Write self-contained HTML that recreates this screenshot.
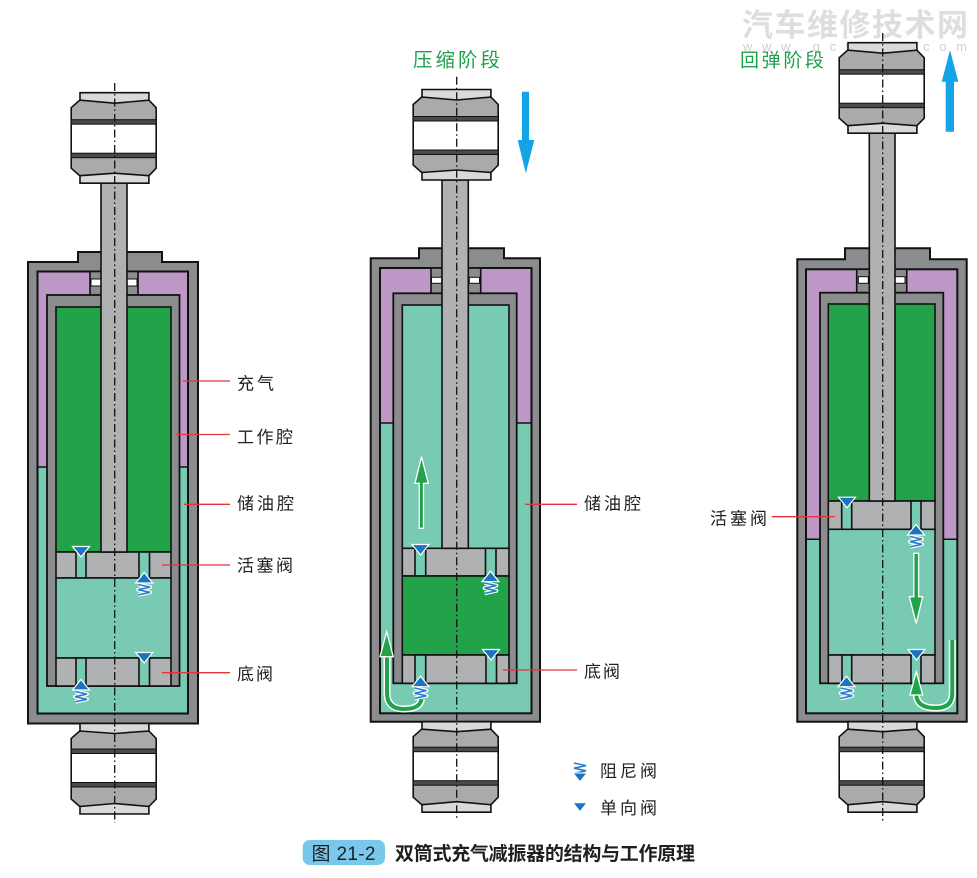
<!DOCTYPE html>
<html><head><meta charset="utf-8"><style>
html,body{margin:0;padding:0;background:#fff;}
svg{display:block;}
text{font-family:"Liberation Sans","Noto Sans CJK SC",sans-serif;}
</style></head><body>
<svg width="977" height="878" viewBox="0 0 977 878" xmlns="http://www.w3.org/2000/svg">
<defs>
<g id="eye">
 <polygon points="-35,7.5 34.2,7.5 41.5,15 41.5,75.5 34.2,83 -35,83 -43.5,75.5 -43.5,15" fill="#a9aaac"/>
 <rect x="-43.5" y="31.5" width="85" height="29" fill="#fff"/>
 <polygon points="-35,7.5 34.2,7.5 41.5,15 41.5,75.5 34.2,83 -35,83 -43.5,75.5 -43.5,15" fill="none" stroke="#111" stroke-width="1.6"/>
 <rect x="-43.5" y="27" width="85" height="4.5" fill="#4a4a4a" stroke="#111" stroke-width="1"/>
 <rect x="-43.5" y="60.5" width="85" height="4.5" fill="#4a4a4a" stroke="#111" stroke-width="1"/>
 <polygon points="-34.7,0 34.2,0 34.2,7.5 0,10.5 -34.7,7.5" fill="#d9d9da" stroke="#111" stroke-width="1.6"/>
 <polygon points="-34.7,83 0,80.5 34.2,83 34.2,90.5 -34.7,90.5" fill="#d9d9da" stroke="#111" stroke-width="1.6"/>
</g>
<g id="spring">
 <polyline points="-6,1 6,3.6 -6,6.2 6,8.8 -6,11.4" fill="none" stroke="#fff" stroke-width="3.8" stroke-linejoin="round"/>
 <polyline points="-6,1 6,3.6 -6,6.2 6,8.8 -6,11.4" fill="none" stroke="#2a7fcc" stroke-width="1.6"/>
</g>
<polygon id="tdown" points="-8.5,0 8.5,0 0,10.5" fill="#1b74c2" stroke="#fff" stroke-width="1.2"/>
<polygon id="tup" points="-8.5,10.5 8.5,10.5 0,0" fill="#1b74c2" stroke="#fff" stroke-width="1.2"/>
</defs>

<!-- watermark -->
<text x="742" y="36" font-size="31" font-weight="bold" fill="#dedede" textLength="226" lengthAdjust="spacing">汽车维修技术网</text>
<text x="743" y="51" font-size="13" fill="#d0d0d0" textLength="224" lengthAdjust="spacing">www.qcwxjs.com</text>

<!-- titles -->
<text x="413" y="66.5" font-size="19.5" fill="#1fa04b" textLength="87" lengthAdjust="spacing">压缩阶段</text>
<text x="740" y="66.5" font-size="19" fill="#1fa04b" textLength="84" lengthAdjust="spacing">回弹阶段</text>

<!-- ================= LEFT ================= -->
<g stroke-linejoin="miter">
<path d="M28,262 H78 V252 H162 V262 H198 V723.5 H28 Z" fill="#8b8c8e" stroke="#111" stroke-width="2"/>
<rect x="37.5" y="271.5" width="150.5" height="195.5" fill="#bd98c6"/>
<rect x="37.5" y="467" width="150.5" height="246.5" fill="#78cbb2"/>
<line x1="37.5" y1="467" x2="188" y2="467" stroke="#111" stroke-width="1.5"/>
<rect x="37.5" y="271.5" width="150.5" height="442" fill="none" stroke="#111" stroke-width="2"/>
<rect x="90" y="271.5" width="48" height="24" fill="#8b8c8e" stroke="#111" stroke-width="1.6"/>
<rect x="91" y="279" width="10" height="7" fill="#fff" stroke="#111" stroke-width="1"/>
<rect x="127" y="279" width="10" height="7" fill="#fff" stroke="#111" stroke-width="1"/>
<rect x="47" y="295" width="132.5" height="391" fill="#8b8c8e" stroke="#111" stroke-width="1.8"/>
<rect x="56" y="307" width="115" height="245" fill="#22a34a" stroke="#111" stroke-width="1.6"/>
<rect x="56" y="552" width="115" height="26" fill="#b0b1b3" stroke="#111" stroke-width="1.6"/>
<rect x="76" y="552" width="10" height="26" fill="#78cbb2" stroke="#111" stroke-width="1.6"/>
<rect x="139" y="552" width="10.5" height="26" fill="#78cbb2" stroke="#111" stroke-width="1.6"/>
<rect x="56" y="578" width="115" height="80" fill="#78cbb2" stroke="#111" stroke-width="1.6"/>
<rect x="56" y="658" width="115" height="28" fill="#b0b1b3" stroke="#111" stroke-width="1.6"/>
<rect x="76" y="658" width="10" height="28" fill="#78cbb2" stroke="#111" stroke-width="1.6"/>
<rect x="139" y="658" width="10.5" height="28" fill="#78cbb2" stroke="#111" stroke-width="1.6"/>
<rect x="101" y="183" width="26" height="369" fill="#b0b1b3" stroke="#111" stroke-width="1.6"/>
<use href="#tdown" x="81" y="546.5"/>
<use href="#tup" x="144.2" y="572.5"/><use href="#spring" x="144.2" y="583.5"/>
<use href="#tdown" x="144.2" y="652.5"/>
<use href="#tup" x="81" y="679.5"/><use href="#spring" x="81" y="690.5"/>
<use href="#eye" transform="translate(114.7,92.7)"/>
<use href="#eye" transform="translate(114.7,814) scale(1,-1)"/>
<line x1="114.7" y1="83" x2="114.7" y2="823" stroke="#111" stroke-width="1.3" stroke-dasharray="8 3 1.5 3"/>
</g>

<!-- left labels -->
<g stroke="#e3343b" stroke-width="1.3">
<line x1="183" y1="381" x2="230" y2="381"/>
<line x1="176" y1="434.5" x2="230" y2="434.5"/>
<line x1="184" y1="504.3" x2="230" y2="504.3"/>
<line x1="162" y1="565" x2="230" y2="565"/>
<line x1="162" y1="672.7" x2="230" y2="672.7"/>
</g>
<g font-size="17" fill="#231f20">
<text x="237" y="389.5" textLength="37" lengthAdjust="spacing">充气</text>
<text x="237" y="443" textLength="56" lengthAdjust="spacing">工作腔</text>
<text x="237" y="509.5" textLength="57" lengthAdjust="spacing">储油腔</text>
<text x="237" y="571.5" textLength="56" lengthAdjust="spacing">活塞阀</text>
<text x="237" y="680" textLength="36" lengthAdjust="spacing">底阀</text>
</g>

<!-- ================= MIDDLE ================= -->
<g>
<path d="M370.7,258.3 H419 V248.3 H504 V258.3 H540 V721.7 H370.7 Z" fill="#8b8c8e" stroke="#111" stroke-width="2"/>
<rect x="380" y="268" width="151.5" height="155" fill="#bd98c6"/>
<rect x="380" y="423" width="151.5" height="290.3" fill="#78cbb2"/>
<line x1="380" y1="423" x2="531.5" y2="423" stroke="#111" stroke-width="1.5"/>
<rect x="380" y="268" width="151.5" height="445.3" fill="none" stroke="#111" stroke-width="2"/>
<rect x="431" y="268" width="49.7" height="25.3" fill="#8b8c8e" stroke="#111" stroke-width="1.6"/>
<rect x="431.5" y="277.3" width="10.2" height="6" fill="#fff" stroke="#111" stroke-width="1"/>
<rect x="469.3" y="277.3" width="10.2" height="6" fill="#fff" stroke="#111" stroke-width="1"/>
<rect x="393.3" y="293.3" width="123.4" height="390" fill="#8b8c8e" stroke="#111" stroke-width="1.8"/>
<rect x="402.3" y="305" width="106.7" height="243.3" fill="#78cbb2" stroke="#111" stroke-width="1.6"/>
<rect x="402.3" y="548.3" width="106.7" height="27.7" fill="#b0b1b3" stroke="#111" stroke-width="1.6"/>
<rect x="415" y="548.3" width="10.7" height="27.7" fill="#78cbb2" stroke="#111" stroke-width="1.6"/>
<rect x="485.5" y="548.3" width="10.5" height="27.7" fill="#78cbb2" stroke="#111" stroke-width="1.6"/>
<rect x="402.3" y="576" width="106.7" height="79" fill="#22a34a" stroke="#111" stroke-width="1.6"/>
<rect x="402.3" y="655" width="106.7" height="28.3" fill="#b0b1b3" stroke="#111" stroke-width="1.6"/>
<rect x="415" y="655" width="10.7" height="28.3" fill="#78cbb2" stroke="#111" stroke-width="1.6"/>
<rect x="486" y="655" width="10.5" height="28.3" fill="#78cbb2" stroke="#111" stroke-width="1.6"/>
<rect x="442" y="180" width="26.3" height="368.3" fill="#b0b1b3" stroke="#111" stroke-width="1.6"/>
<use href="#tdown" x="420.5" y="544.5"/>
<use href="#tup" x="490.5" y="571.2"/><use href="#spring" x="490.5" y="582"/>
<use href="#tdown" x="491" y="649.5"/>
<use href="#tup" x="420.5" y="676.2"/><use href="#spring" x="420.5" y="687"/>
<!-- green arrows -->
<polygon points="419.3,528.3 419.3,483.3 415,483.3 421.5,456.7 428.3,483.3 423.5,483.3 423.5,528.3" fill="#22a34a" stroke="#fff" stroke-width="1.3"/>
<path d="M421.5,699 Q420,709 404,709 Q387,709 387,693 L387,655" fill="none" stroke="#fff" stroke-width="7"/>
<path d="M421.5,699 Q420,709 404,709 Q387,709 387,693 L387,655" fill="none" stroke="#22a34a" stroke-width="4"/>
<polygon points="380,656.7 393.3,656.7 386.7,631.7" fill="#22a34a" stroke="#fff" stroke-width="1.3"/>
<use href="#eye" transform="translate(456.7,89.5)"/>
<use href="#eye" transform="translate(456.7,812.2) scale(1,-1)"/>
<line x1="456.7" y1="76.7" x2="456.7" y2="820" stroke="#111" stroke-width="1.3" stroke-dasharray="8 3 1.5 3"/>
<polygon points="522,91.7 529,91.7 529,140 534.3,140 525.8,173.3 517.7,140 522,140" fill="#14a4e5"/>
</g>
<g stroke="#e3343b" stroke-width="1.3">
<line x1="525" y1="504.3" x2="577" y2="504.3"/>
<line x1="503" y1="670" x2="577" y2="670"/>
</g>
<g font-size="17" fill="#231f20">
<text x="584" y="509.5" textLength="57" lengthAdjust="spacing">储油腔</text>
<text x="584" y="677.5" textLength="36" lengthAdjust="spacing">底阀</text>
</g>

<!-- ================= RIGHT ================= -->
<g>
<path d="M797.3,259.3 H845 V248.3 H930 V259.3 H966.7 V721.7 H797.3 Z" fill="#8b8c8e" stroke="#111" stroke-width="2"/>
<rect x="806" y="269.3" width="151.3" height="270" fill="#bd98c6"/>
<rect x="806" y="539.3" width="151.3" height="174" fill="#78cbb2"/>
<line x1="806" y1="539.3" x2="957.3" y2="539.3" stroke="#111" stroke-width="1.5"/>
<rect x="806" y="269.3" width="151.3" height="444" fill="none" stroke="#111" stroke-width="2"/>
<rect x="856.7" y="269.3" width="50" height="23.4" fill="#8b8c8e" stroke="#111" stroke-width="1.6"/>
<rect x="858.3" y="276.7" width="10" height="6.6" fill="#fff" stroke="#111" stroke-width="1"/>
<rect x="895" y="276.7" width="10" height="6.6" fill="#fff" stroke="#111" stroke-width="1"/>
<rect x="820" y="292.7" width="123.3" height="390.6" fill="#8b8c8e" stroke="#111" stroke-width="1.8"/>
<rect x="828.3" y="304" width="106.7" height="197" fill="#22a34a" stroke="#111" stroke-width="1.6"/>
<rect x="828.3" y="501" width="106.7" height="28.3" fill="#b0b1b3" stroke="#111" stroke-width="1.6"/>
<rect x="841.7" y="501" width="10" height="28.3" fill="#78cbb2" stroke="#111" stroke-width="1.6"/>
<rect x="911" y="501" width="10" height="28.3" fill="#78cbb2" stroke="#111" stroke-width="1.6"/>
<rect x="828.3" y="529.3" width="106.7" height="125.7" fill="#78cbb2" stroke="#111" stroke-width="1.6"/>
<rect x="828.3" y="655" width="106.7" height="28.3" fill="#b0b1b3" stroke="#111" stroke-width="1.6"/>
<rect x="842" y="655" width="9.7" height="28.3" fill="#78cbb2" stroke="#111" stroke-width="1.6"/>
<rect x="911" y="655" width="10" height="28.3" fill="#78cbb2" stroke="#111" stroke-width="1.6"/>
<rect x="869.3" y="133.2" width="25.7" height="367.8" fill="#b0b1b3" stroke="#111" stroke-width="1.6"/>
<use href="#tdown" x="847" y="497.2"/>
<use href="#tup" x="916" y="524.5"/><use href="#spring" x="916" y="535.5"/>
<use href="#tdown" x="916.5" y="649.5"/>
<use href="#tup" x="846.5" y="676.2"/><use href="#spring" x="846.5" y="687"/>
<!-- green arrows -->
<polygon points="913.8,553.3 918.6,553.3 918.6,596.7 922.7,596.7 916.2,623.3 909.3,596.7 913.8,596.7" fill="#22a34a" stroke="#fff" stroke-width="1.3"/>
<path d="M952.3,640 L952.3,693 Q952.3,708 936,708 Q916.3,708 916.3,694" fill="none" stroke="#fff" stroke-width="7"/>
<path d="M952.3,640 L952.3,693 Q952.3,708 936,708 Q916.3,708 916.3,694" fill="none" stroke="#22a34a" stroke-width="4"/>
<polygon points="910,695 922.7,695 916.3,671.7" fill="#22a34a" stroke="#fff" stroke-width="1.3"/>
<use href="#eye" transform="translate(882.7,42.7)"/>
<use href="#eye" transform="translate(882.7,812.2) scale(1,-1)"/>
<line x1="882.7" y1="33" x2="882.7" y2="822" stroke="#111" stroke-width="1.3" stroke-dasharray="8 3 1.5 3"/>
<polygon points="945.7,131.7 954,131.7 954,81.7 958.3,81.7 950,50 941.7,81.7 945.7,81.7" fill="#14a4e5"/>
</g>
<line x1="771.7" y1="516.7" x2="835" y2="516.7" stroke="#e3343b" stroke-width="1.3"/>
<text x="710" y="524.5" font-size="17" fill="#231f20" textLength="57" lengthAdjust="spacing">活塞阀</text>

<!-- legend -->
<use href="#spring" x="580" y="762"/>
<polygon points="573,773 587,773 580,781.7" fill="#1b74c2" stroke="#fff" stroke-width="1"/>
<polygon points="574,803.3 586,803.3 580,810.7" fill="#1b74c2"/>
<g font-size="17" fill="#231f20">
<text x="600" y="777" textLength="57" lengthAdjust="spacing">阻尼阀</text>
<text x="600" y="814" textLength="57" lengthAdjust="spacing">单向阀</text>
</g>

<!-- caption -->
<rect x="302.7" y="840" width="82.3" height="25" rx="7" fill="#79c7ea"/>
<text x="311.5" y="860" font-size="19" fill="#1f1f1f" textLength="64" lengthAdjust="spacing">图 21-2</text>
<text x="395" y="860" font-size="19" font-weight="bold" fill="#1f1f1f" textLength="300" lengthAdjust="spacing">双筒式充气减振器的结构与工作原理</text>
</svg>
</body></html>
